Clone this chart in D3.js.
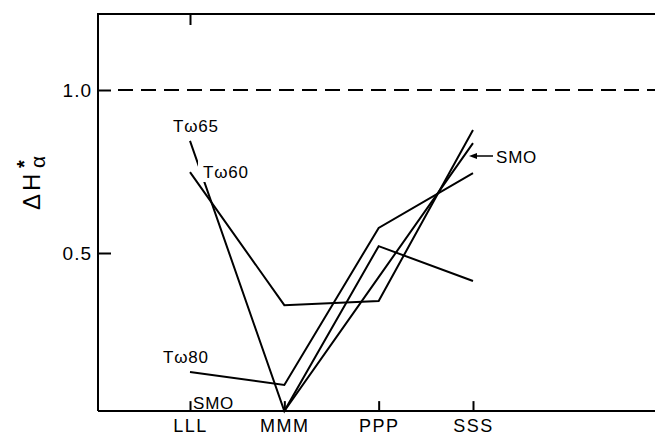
<!DOCTYPE html>
<html>
<head>
<meta charset="utf-8">
<script src="https://cdn.jsdelivr.net/npm/d3@7"></script>
<style>
  html, body { margin: 0; padding: 0; background: #fff; }
  svg text { font-family: "Liberation Sans", Arial, sans-serif; fill: #000; }
  .axis .domain { display: none; }
  .axis line { stroke: #000; stroke-width: 2; }
  .series { fill: none; stroke: #000; stroke-width: 2; stroke-linejoin: miter; }
</style>
</head>
<body>
<div id="chart"></div>
<script>
'use strict';

// values
var categories = ['LLL', 'MMM', 'PPP', 'SSS'];
var tw65 = [0.844, 0.015, 0.521, 0.414];
var tw60 = [0.748, 0.340, 0.353, 0.877];
var tw80 = [0.135, 0.095, 0.577, 0.745];
var smo = [0.015, 0.015, 0.426, 0.837];
var yTicks = [0.5, 1.0];
var referenceValue = 1.0;
var baseValue = 0.015;

var chartWidth = 655;
var chartHeight = 437;
var plotLeft = 98;
var plotTop = 14;

var x = d3.scalePoint().domain(categories).range([190, 473]);
var y = d3.scaleLinear().domain([0, 1]).range([416, 90]);
var plotBottom = y(baseValue);

var svg = d3.select('#chart').append('svg')
    .attr('width', chartWidth)
    .attr('height', chartHeight);

// frame: left and top lines, bottom line
svg.append('path')
    .attr('d', 'M' + plotLeft + ',' + plotBottom + 'V' + plotTop + 'H' + chartWidth)
    .attr('fill', 'none')
    .attr('stroke', '#000')
    .attr('stroke-width', 2);

svg.append('line')
    .attr('x1', plotLeft).attr('x2', chartWidth)
    .attr('y1', plotBottom).attr('y2', plotBottom)
    .attr('stroke', '#000')
    .attr('stroke-width', 2);

// y axis, ticks pointing inward
svg.append('g')
    .attr('class', 'axis')
    .attr('transform', 'translate(' + plotLeft + ',0)')
    .call(d3.axisLeft(y).tickValues(yTicks).tickSize(-13).tickSizeOuter(0)
        .tickPadding(6).tickFormat(d3.format('.1f')))
    .selectAll('text')
    .style('font-size', '19px')
    .style('letter-spacing', '1px');

// x axis, ticks pointing inward
var xAxis = svg.append('g')
    .attr('class', 'axis')
    .attr('transform', 'translate(0,' + plotBottom + ')')
    .call(d3.axisBottom(x).tickSize(-10).tickSizeOuter(0).tickPadding(8));
xAxis.selectAll('text')
    .style('font-size', '18px')
    .style('letter-spacing', '1.5px');

// top tick
svg.append('g')
    .attr('class', 'axis')
    .attr('transform', 'translate(0,' + plotTop + ')')
    .call(d3.axisTop(x).tickValues([categories[0]]).tickSize(-11).tickSizeOuter(0).tickFormat(''));

// dashed reference line at 1.0
svg.append('line')
    .attr('x1', plotLeft + 20).attr('x2', chartWidth)
    .attr('y1', y(referenceValue)).attr('y2', y(referenceValue))
    .attr('stroke', '#000')
    .attr('stroke-width', 2)
    .attr('stroke-dasharray', '15,8');

var line = d3.line()
    .x(function(d, i) { return x(categories[i]); })
    .y(function(d) { return y(d); });

[tw65, tw60, tw80, smo].forEach(function(values) {
    svg.append('path')
        .datum(values)
        .attr('class', 'series')
        .attr('d', line);
});

// labels
var labelSize = '17px';

function addLabel(px, py, txt) {
    return svg.append('text')
        .attr('x', px).attr('y', py)
        .style('font-size', labelSize)
        .style('letter-spacing', '0.8px')
        .text(txt);
}

addLabel(x('LLL') - 17, y(tw65[0]) - 9, 'Tω65');

// gap in the Tw65 line behind the Tw60 label
svg.append('rect')
    .attr('x', 198).attr('y', 161)
    .attr('width', 56).attr('height', 21)
    .attr('fill', '#fff');

addLabel(203, 178, 'Tω60');
addLabel(163, 363, 'Tω80');
addLabel(193, 409, 'SMO');
addLabel(496, 163, 'SMO');

svg.append('line')
    .attr('x1', 493).attr('x2', 474)
    .attr('y1', 156).attr('y2', 156)
    .attr('stroke', '#000')
    .attr('stroke-width', 1.5);

svg.append('path')
    .attr('d', 'M469,156L477,153L477,159Z')
    .attr('fill', '#000');

// y axis title
var title = svg.append('g')
    .attr('transform', 'translate(40,185) rotate(-90)');

title.append('text')
    .attr('x', -25).attr('y', 0)
    .style('font-size', '24px')
    .style('letter-spacing', '3px')
    .text('ΔH');

title.append('text')
    .attr('x', 17).attr('y', -9)
    .style('font-size', '20px')
    .style('font-weight', 'bold')
    .text('*');

title.append('text')
    .attr('x', 17).attr('y', 5)
    .style('font-size', '21px')
    .text('α');
</script>
</body>
</html>
